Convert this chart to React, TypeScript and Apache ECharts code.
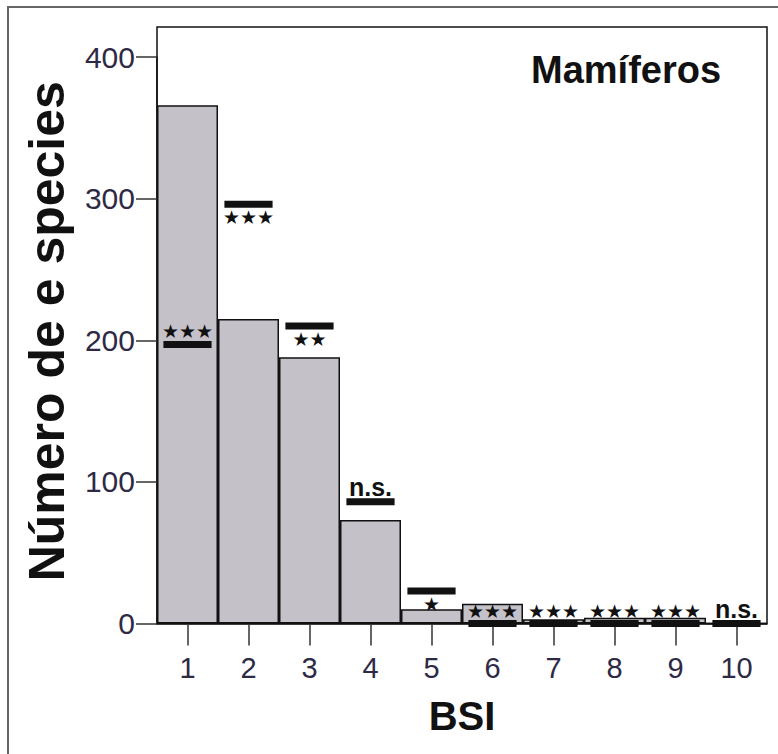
import React, { useEffect, useRef } from "react";
import * as echarts from "echarts";

// ---- data ----
const categories = ["1", "2", "3", "4", "5", "6", "7", "8", "9", "10"];
const speciesCounts = [366, 215, 188, 73, 10, 14, 3, 4, 4, 0];
const expectedCounts = [197, 296, 210, 86, 23, 0, 0, 0, 0, 0];
const significance = ["★★★", "★★★", "★★", "n.s.", "★", "★★★", "★★★", "★★★", "★★★", "n.s."];
const labelSide = ["above", "below", "below", "above", "below", "above", "above", "above", "above", "above"];
const yMin = 0;
const yMax = 400;
const yInterval = 100;

const titleText = "Mamíferos";
const xName = "BSI";
const yName = "Número de e species";

// ---- layout ----
const W = 778;
const H = 754;
const GRID = { left: 157, right: 11, top: 57, bottom: 130.5 };
const FRAME_TOP = 27;

const SANS = "'Liberation Sans', Arial, sans-serif";
const NARROW = "'Liberation Sans Narrow', 'Arial Narrow', 'Liberation Sans', sans-serif";

export default function App() {
  const ref = useRef<HTMLDivElement>(null);

  useEffect(() => {
    document.body.style.margin = "0";
    if (!ref.current) return;
    const chart = echarts.init(ref.current, null, { renderer: "svg" });

    const plotRight = W - GRID.right;
    const plotBottom = H - GRID.bottom;

    const option: any = {
      animation: false,
      backgroundColor: "#ffffff",
      title: {
        text: titleText,
        left: 526,
        top: 46,
        textStyle: { fontFamily: SANS, fontWeight: "bold", fontSize: 38, color: "#111111" },
      },
      grid: { left: GRID.left, right: GRID.right, top: GRID.top, bottom: GRID.bottom, containLabel: false },
      xAxis: {
        type: "category",
        data: categories,
        name: xName,
        nameLocation: "middle",
        nameGap: 72,
        nameTextStyle: { fontFamily: SANS, fontWeight: "bold", fontSize: 40, color: "#111111" },
        axisLine: { show: true, lineStyle: { color: "#111111", width: 1.5 } },
        axisTick: { show: true, alignWithLabel: true, length: 22, lineStyle: { color: "#333333", width: 1.5 } },
        axisLabel: { margin: 30, fontFamily: SANS, fontSize: 29, color: "#2e2a45" },
        splitLine: { show: false },
      },
      yAxis: {
        type: "value",
        min: yMin,
        max: yMax,
        interval: yInterval,
        name: yName,
        nameLocation: "middle",
        nameGap: 85,
        nameRotate: 90,
        nameTextStyle: { fontFamily: SANS, fontWeight: "bold", fontSize: 50, color: "#111111", padding: [0, 0, 0, 18] },
        axisLine: { show: true, lineStyle: { color: "#111111", width: 1.5 } },
        axisTick: { show: true, length: 21, lineStyle: { color: "#333333", width: 1.5 } },
        axisLabel: { margin: 22, fontFamily: SANS, fontSize: 30, color: "#2e2a45" },
        splitLine: { show: false },
      },
      graphic: [
        {
          type: "rect",
          shape: { x: 8, y: 7, width: 1000, height: 1000 },
          style: { fill: "none", stroke: "#666666", lineWidth: 2 },
          silent: true,
        },
        {
          type: "rect",
          shape: { x: GRID.left, y: FRAME_TOP, width: plotRight - GRID.left, height: plotBottom - FRAME_TOP },
          style: { fill: "none", stroke: "#111111", lineWidth: 1.5 },
          silent: true,
        },
      ],
      series: [
        {
          type: "bar",
          data: speciesCounts,
          barCategoryGap: 0,
          itemStyle: { color: "#c5c1c9", borderColor: "#111111", borderWidth: 1.5 },
          z: 2,
        },
        {
          type: "custom",
          data: categories.map((_, i) => [i, expectedCounts[i]]),
          encode: { x: 0, y: 1 },
          z: 5,
          renderItem: (params: any, api: any) => {
            const i = params.dataIndex;
            const p = api.coord([api.value(0), api.value(1)]);
            const bw = api.size([1, 0])[0];
            const w = bw * 0.79;
            const sig = significance[i];
            const isNs = sig === "n.s.";
            const off = labelSide[i] === "above" ? (isNs ? -15 : -13) : 13;
            return {
              type: "group",
              children: [
                {
                  type: "rect",
                  shape: { x: p[0] - w / 2, y: p[1] - 3.5, width: w, height: 7 },
                  style: { fill: "#111111" },
                },
                {
                  type: "text",
                  x: p[0],
                  y: p[1] + off,
                  style: {
                    text: sig,
                    fill: "#111111",
                    align: "center",
                    verticalAlign: "middle",
                    fontFamily: isNs ? SANS : "'DejaVu Sans', sans-serif",
                    fontWeight: isNs ? "bold" : "normal",
                    fontSize: isNs ? 25 : 19,
                  },
                },
              ],
            };
          },
        },
      ],
    };

    chart.setOption(option);
    return () => chart.dispose();
  }, []);

  return <div ref={ref} style={{ width: W, height: H }} />;
}
